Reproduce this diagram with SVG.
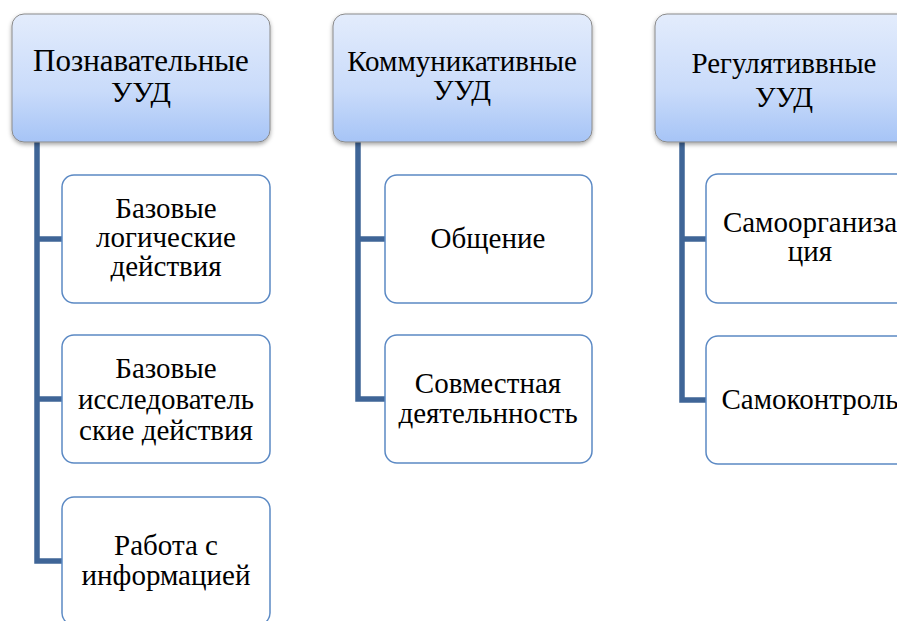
<svg xmlns="http://www.w3.org/2000/svg" width="897" height="621" viewBox="0 0 897 621">
<style>
.hdr{stroke:#8a8a8a;stroke-width:1;fill:url(#hg);filter:url(#sh)}
.box{fill:#ffffff;stroke:#5b89c4;stroke-width:1.5}
.conn{fill:none;stroke:#3f6597;stroke-width:5.5;stroke-linejoin:miter}
text{font-family:'Liberation Serif','DejaVu Serif',serif;fill:#000;text-anchor:middle}
.h{font-size:29px}
.c{font-size:29px}
</style>
<defs>
<linearGradient id="hg" x1="0" y1="0" x2="0" y2="1">
<stop offset="0" stop-color="#e3ecfc"/>
<stop offset="0.6" stop-color="#c9dbfa"/>
<stop offset="1" stop-color="#a6c4f6"/>
</linearGradient>
<filter id="sh" x="-10%" y="-10%" width="120%" height="125%">
<feDropShadow dx="0" dy="2" stdDeviation="2" flood-color="#000" flood-opacity="0.35"/>
</filter>
</defs>
<g id="connectors">
<path class="conn" d="M37 142 V239 H62 M37 239 V399 H62 M37 399 V561 H62"/>
<path class="conn" d="M358 142 V239 H385 M358 239 V399 H385"/>
<path class="conn" d="M682 142 V239 H706 M682 239 V400 H706"/>
</g>
<g id="n1">
<rect class="hdr" x="12" y="14" width="258" height="128" rx="12"/>
<text class="h" x="141" y="71" style="font-size:31px">Познавательные</text>
<text class="h" x="141" y="102" style="font-size:30px">УУД</text>
</g>
<g id="n1a">
<rect class="box" x="62" y="175" width="208" height="128" rx="12"/>
<text class="c" x="166" y="218">Базовые</text>
<text class="c" x="166" y="247">логические</text>
<text class="c" x="166" y="276">действия</text>
</g>
<g id="n1b">
<rect class="box" x="62" y="335" width="208" height="128" rx="12"/>
<text class="c" x="166" y="378">Базовые</text>
<text class="c" x="166" y="409">исследователь</text>
<text class="c" x="166" y="440">ские действия</text>
</g>
<g id="n1c">
<rect class="box" x="62" y="497" width="208" height="128" rx="12"/>
<text class="c" x="166" y="555">Работа с</text>
<text class="c" x="166" y="585">информацией</text>
</g>
<g id="n2">
<rect class="hdr" x="333" y="14" width="259" height="128" rx="12"/>
<text class="h" x="462" y="71">Коммуникативные</text>
<text class="h" x="462" y="100">УУД</text>
</g>
<g id="n2a">
<rect class="box" x="385" y="175" width="207" height="128" rx="12"/>
<text class="c" x="488" y="248">Общение</text>
</g>
<g id="n2b">
<rect class="box" x="385" y="335" width="207" height="128" rx="12"/>
<text class="c" x="488" y="393">Совместная</text>
<text class="c" x="488" y="423">деятельнность</text>
</g>
<g id="n3">
<rect class="hdr" x="655" y="14" width="258" height="128" rx="12"/>
<text class="h" x="784" y="73">Регулятиввные</text>
<text class="h" x="784" y="107">УУД</text>
</g>
<g id="n3a">
<rect class="box" x="706" y="174" width="208" height="129" rx="12"/>
<text class="c" x="810" y="232">Самоорганиза</text>
<text class="c" x="810" y="261">ция</text>
</g>
<g id="n3b">
<rect class="box" x="706" y="336" width="208" height="128" rx="12"/>
<text class="c" x="810" y="409">Самоконтроль</text>
</g>
</svg>
